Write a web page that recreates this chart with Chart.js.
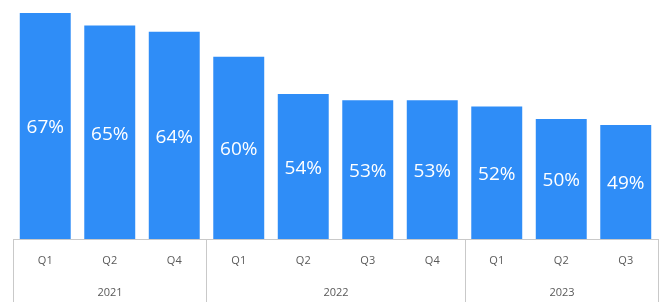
<!DOCTYPE html>
<html>
<head>
<meta charset="utf-8">
<script src="https://cdn.jsdelivr.net/npm/chart.js@4"></script>
<style>
  html, body { margin: 0; padding: 0; background: #fff; }
  #wrap { width: 666px; height: 306px; }
</style>
</head>
<body>
<div id="wrap"><canvas id="myChart" width="666" height="306"></canvas></div>
<script>
const quarters = ["Q1", "Q2", "Q4", "Q1", "Q2", "Q3", "Q4", "Q1", "Q2", "Q3"];
const years = ["2021", "2022", "2023"];
const yearSizes = [3, 4, 3];
const shares = [67, 65, 64, 60, 54, 53, 53, 52, 50, 49];

const barColor = "#2f8df7";
const lineColor = "#c9c9c9";

// white % labels in the middle of each bar
const valueLabels = {
  id: "valueLabels",
  afterDatasetsDraw(chart) {
    const ctx = chart.ctx;
    const meta = chart.getDatasetMeta(0);
    const bottom = chart.chartArea.bottom;
    ctx.save();
    ctx.fillStyle = "#ffffff";
    ctx.font = "19px 'Open Sans'";
    ctx.textAlign = "center";
    ctx.textBaseline = "middle";
    meta.data.forEach((bar, i) => {
      ctx.fillText(shares[i] + "%", bar.x, (bar.y + bottom) / 2 + 2);
    });
    ctx.restore();
  },
};

// second row of the category axis: years and separators
const yearAxis = {
  id: "yearAxis",
  afterDraw(chart) {
    const ctx = chart.ctx;
    const x = chart.scales.x;
    const area = chart.chartArea;
    const half = (x.getPixelForValue(1) - x.getPixelForValue(0)) / 2;
    ctx.save();
    ctx.strokeStyle = lineColor;
    ctx.lineWidth = 1;
    ctx.fillStyle = "#595959";
    ctx.font = "11px 'Open Sans'";
    ctx.textAlign = "center";
    ctx.textBaseline = "middle";
    let start = 0;
    const edge = (i) => Math.round(x.getPixelForValue(i) - half) + 0.5;
    ctx.beginPath();
    ctx.moveTo(edge(0), area.bottom);
    ctx.lineTo(edge(0), 302);
    ctx.stroke();
    years.forEach((yr, g) => {
      const end = start + yearSizes[g];
      const right = edge(end);
      ctx.beginPath();
      ctx.moveTo(right, area.bottom);
      ctx.lineTo(right, 302);
      ctx.stroke();
      ctx.fillText(yr, (edge(start) + right) / 2, 293);
      start = end;
    });
    ctx.restore();
  },
};

new Chart(document.getElementById("myChart").getContext("2d"), {
  type: "bar",
  data: {
    labels: quarters,
    datasets: [
      {
        data: shares,
        backgroundColor: barColor,
        categoryPercentage: 1,
        barPercentage: 0.79,
      },
    ],
  },
  options: {
    responsive: false,
    animation: false,
    layout: { padding: { left: 13, right: 8, top: 0, bottom: 0 } },
    plugins: { legend: { display: false }, tooltip: { enabled: false } },
    scales: {
      x: {
        grid: { display: false, drawTicks: false },
        border: { display: true, color: lineColor, width: 1 },
        ticks: {
          color: "#595959",
          font: { family: "'Open Sans'", size: 11 },
          padding: 15,
          maxRotation: 0,
        },
        afterFit(scale) {
          scale.height = 67;
        },
      },
      y: {
        display: false,
        min: 30.7,
        max: 69.1,
      },
    },
  },
  plugins: [valueLabels, yearAxis],
});
</script>
</body>
</html>
